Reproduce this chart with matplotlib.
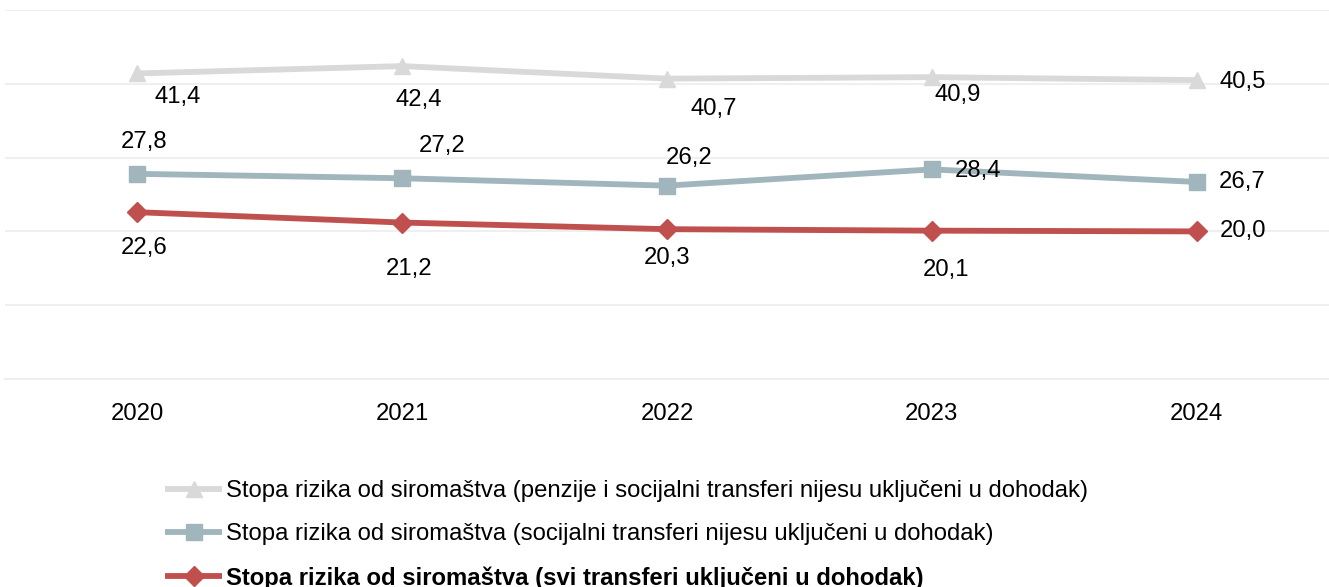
import numpy as np
import matplotlib.pyplot as plt

plt.rcParams['font.family'] = ['Liberation Sans', 'DejaVu Sans']

godine = ['2020', '2021', '2022', '2023', '2024']
bez_penzija = [41.4, 42.4, 40.7, 40.9, 40.5]
bez_soc = [27.8, 27.2, 26.2, 28.4, 26.7]
svi_transferi = [22.6, 21.2, 20.3, 20.1, 20.0]

nazivi = ['Stopa rizika od siromaštva (penzije i socijalni transferi nijesu uključeni u dohodak)',
          'Stopa rizika od siromaštva (socijalni transferi nijesu uključeni u dohodak)',
          'Stopa rizika od siromaštva (svi transferi uključeni u dohodak)']

# pomaci natpisa u pikselima (dx, dy)
pomaci_1 = [(40, -24), (17, -34), (47, -30), (26, -18), (46, -2)]
pomaci_2 = [(7, 32), (40, 32), (22, 28), (46, -2), (46, 0)]
pomaci_3 = [(7, -36), (7, -46), (0, -29), (14, -39), (46, 0)]

fs = 17.2

fig = plt.figure(figsize=(13.29, 5.87), dpi=100)
ax = fig.add_axes([5/1329, 1-379/587, 1324/1329, 369/587])

x = np.arange(len(godine))
serije = [
    (bez_penzija, '#d9d9d9', '^', pomaci_1),
    (bez_soc, '#a1b5bc', 's', pomaci_2),
    (svi_transferi, '#c0504d', 'D', pomaci_3),
]
for (vals, boja, mk, pomaci), naziv in zip(serije, nazivi):
    ms = 12 if mk != 'D' else 10
    ax.plot(x, vals, color=boja, lw=4.2, marker=mk, markersize=ms, label=naziv,
            solid_capstyle='butt', zorder=3)
    for xi, v, (dx, dy) in zip(x, vals, pomaci):
        ax.annotate(f'{v:.1f}'.replace('.', ','), (xi, v),
                    xytext=(dx*0.72, dy*0.72), textcoords='offset points',
                    ha='center', va='center', fontsize=fs, color='black')

ax.set_xlim(-0.5, 4.5)
ax.set_ylim(0, 50)
ax.set_yticks(np.arange(0, 51, 10))
ax.set_yticklabels([])
ax.tick_params(axis='y', length=0)
ax.grid(axis='y', color='#efefef', lw=1.5)
ax.set_axisbelow(True)
ax.set_xticks(x)
ax.set_xticklabels(godine, fontsize=fs)
ax.tick_params(axis='x', length=0, pad=17)
for s in ['top', 'right', 'left']:
    ax.spines[s].set_visible(False)
ax.spines['bottom'].set_color('#efefef')
ax.spines['bottom'].set_linewidth(1.5)

leg = fig.legend(loc='upper left', bbox_to_anchor=(165/1329, 1-480/587),
                 frameon=False, fontsize=fs, handlelength=2.4, handletextpad=0.15,
                 labelspacing=0.88, borderaxespad=0, borderpad=0)
leg.get_texts()[2].set_fontweight('bold')

fig.savefig('out.png', dpi=100)
